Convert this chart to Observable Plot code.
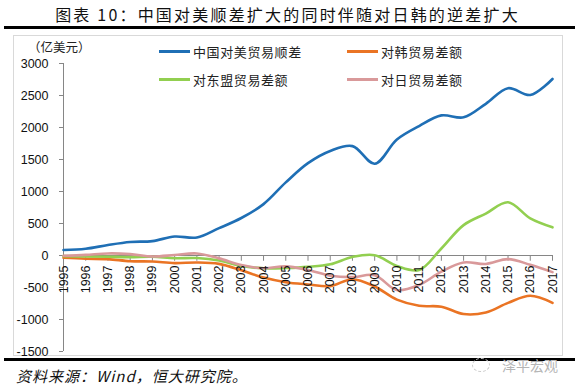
<!DOCTYPE html>
<html>
<head>
<meta charset="utf-8">
<script src="https://cdn.jsdelivr.net/npm/d3@7"></script>
<script src="https://cdn.jsdelivr.net/npm/@observablehq/plot@0.6"></script>
<style>
  html, body { margin: 0; padding: 0; background: #fff; }
  #wrap { position: relative; width: 575px; height: 389px; overflow: hidden; background: #fff;
          font-family: "Noto Sans CJK SC", "Liberation Sans", sans-serif; }
  .abs { position: absolute; }
  #title { left: 0; width: 575px; top: 2px; text-align: center; font-size: 16px; letter-spacing: 2.2px; color: #111;
           font-family: "Noto Sans CJK SC", sans-serif; }
  .hbar { left: 4px; right: 0; height: 3px; background: #000; }
  #box { left: 13px; top: 35px; width: 550px; height: 321px; border: 1px solid #d9d9d9; box-sizing: border-box; }
  #chart { left: 0; top: 0; }
  #unit { left: 28px; top: 39px; font-size: 12.5px; line-height: 16px; color: #222; }
  .leg { font-size: 13px; color: #222; display: flex; align-items: center; letter-spacing: 0.6px; }
  .leg span.sw { display: inline-block; width: 31px; height: 3px; margin-right: 3px; }
  #src { left: 16px; top: 365px; font-size: 15px; font-style: italic; color: #111; letter-spacing: 1px; }
  #wm { left: 472px; top: 355px; font-size: 14px; color: #b5b5b5; display: flex; align-items: center; }
  #wm .ic { display: inline-block; width: 16px; height: 12px; border: 1px dashed #c8c8c8; border-radius: 50%; margin-right: 12px; }
</style>
</head>
<body>
<div id="wrap">
  <div id="title" class="abs">图表 10：中国对美顺差扩大的同时伴随对日韩的逆差扩大</div>
  <div class="abs hbar" style="top:26px"></div>
  <div id="box" class="abs"></div>
  <div id="chart" class="abs"></div>
  <div id="unit" class="abs">（亿美元）</div>
  <div id="legend"></div>
  <div class="abs hbar" style="top:358px"></div>
  <div id="wm" class="abs"><span class="ic"></span>泽平宏观</div>
  <div id="src" class="abs">资料来源：Wind，恒大研究院。</div>
</div>
<script>
// ---- data ----
const years = [1995,1996,1997,1998,1999,2000,2001,2002,2003,2004,2005,2006,2007,2008,2009,2010,2011,2012,2013,2014,2015,2016,2017];
const usSurplus = [86,105,164,211,225,297,281,427,586,803,1142,1443,1633,1709,1434,1813,2023,2189,2159,2370,2614,2508,2758];
const koreaBalance = [-36,-50,-57,-89,-94,-119,-109,-131,-230,-345,-417,-452,-478,-370,-484,-690,-786,-800,-915,-890,-740,-630,-740];
const aseanBalance = [-10,-15,-20,-25,-20,-42,-40,-78,-165,-200,-196,-178,-138,-22,5,-163,-226,110,475,655,832,580,440];
const japanBalance = [-5,10,32,22,-15,8,32,-45,-150,-200,-170,-228,-315,-338,-308,-540,-460,-252,-110,-132,-57,-145,-260];
const seriesNames = ["中国对美贸易顺差", "对韩贸易差额", "对东盟贸易差额", "对日贸易差额"];
const seriesColors = ["#1f6fb5", "#ea7424", "#92cf50", "#d9999a"];
const yTicks = [-1500,-1000,-500,0,500,1000,1500,2000,2500,3000];
const yLabel = "（亿美元）";

const allSeries = [usSurplus, koreaBalance, aseanBalance, japanBalance];
const rows = [];
allSeries.forEach((vals, si) => vals.forEach((v, i) => rows.push({year: years[i], value: v, series: seriesNames[si]})));

const axisColor = "#868686";
const plot = Plot.plot({
  width: 575,
  height: 389,
  marginTop: 63,
  marginBottom: 38,
  marginLeft: 63,
  marginRight: 23,
  style: {background: "transparent", fontFamily: "'Liberation Sans', Arial, sans-serif", fontSize: "12px", color: "#111"},
  x: {domain: [1995, 2017], axis: null},
  y: {domain: [-1500, 3000], axis: null},
  color: {domain: seriesNames, range: seriesColors},
  marks: [
    Plot.axisY(yTicks, {tickSize: 4, tickPadding: 11, stroke: axisColor, fontSize: 12.5, fill: "#111", label: null, tickFormat: d => String(d)}),
    Plot.ruleX([1995], {y1: -1500, y2: 3000, stroke: axisColor, strokeWidth: 1}),
    Plot.ruleY([0], {x1: 1995, x2: 2017, stroke: axisColor, strokeWidth: 1}),
    Plot.ruleX(years, {x: d => d, y1: 0, y2: -90, stroke: axisColor, strokeWidth: 1}),
    Plot.line(rows, {x: "year", y: "value", z: "series", stroke: "series", strokeWidth: 2.6, curve: "catmull-rom"}),
    Plot.text(years, {x: d => d, y: 0, text: d => String(d), rotate: -90, textAnchor: "end", lineAnchor: "middle", dy: 10, fontSize: 12.5, fill: "#111"})
  ]
});
document.getElementById("chart").appendChild(plot);

// ---- legend ----
const legendPos = [[159, 51], [347, 51], [159, 79], [347, 79]];
const legend = document.getElementById("legend");
seriesNames.forEach((name, i) => {
  const d = document.createElement("div");
  d.className = "abs leg";
  d.style.left = legendPos[i][0] + "px";
  d.style.top = (legendPos[i][1] - 10) + "px";
  d.style.height = "20px";
  d.innerHTML = `<span class="sw" style="background:${seriesColors[i]}"></span>${name}`;
  legend.appendChild(d);
});
</script>
</body>
</html>
